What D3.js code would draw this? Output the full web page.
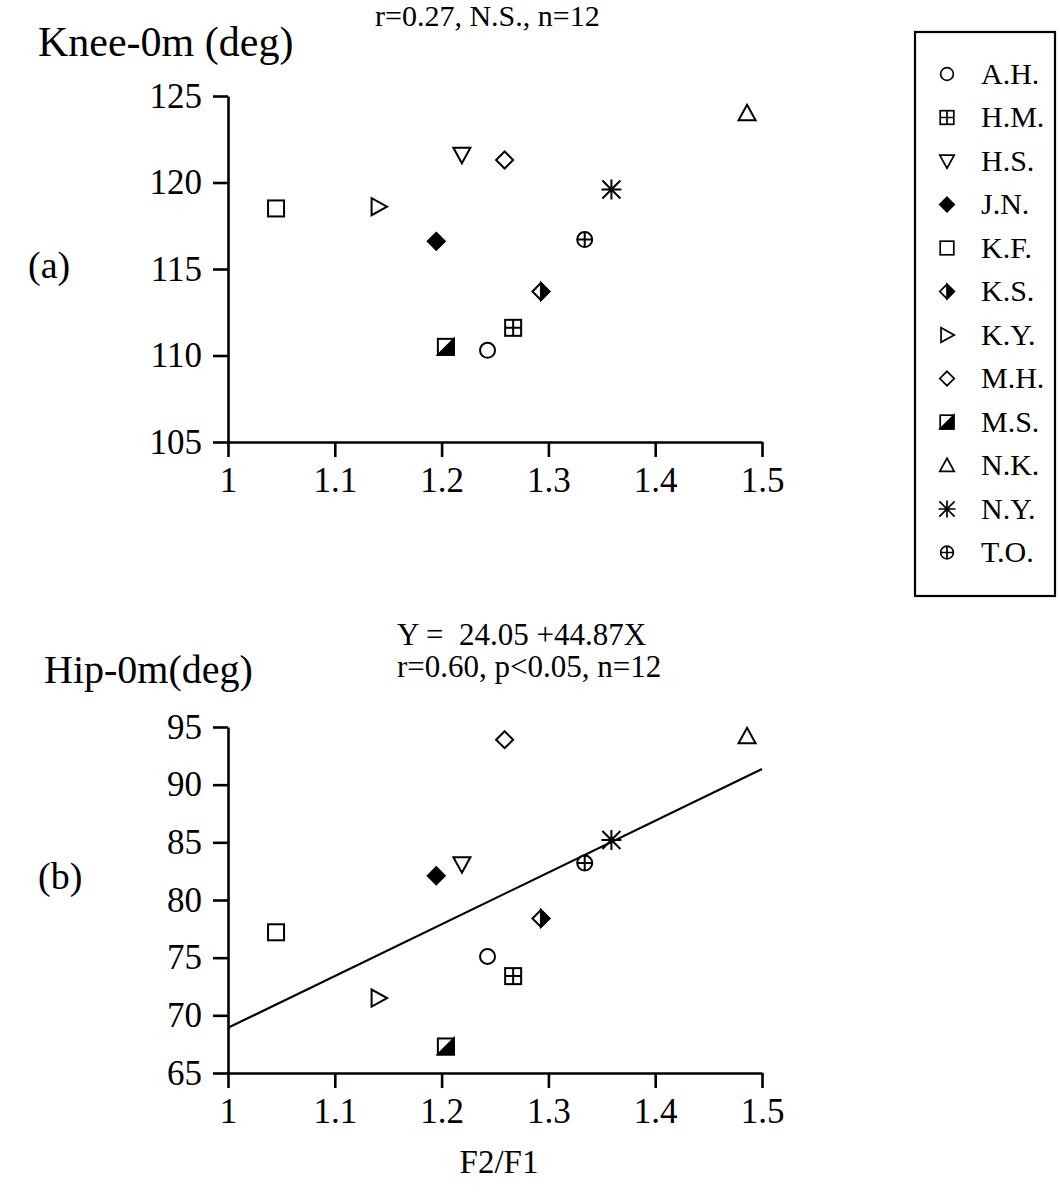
<!DOCTYPE html>
<html><head><meta charset="utf-8">
<script src="https://cdn.jsdelivr.net/npm/d3@7"></script>
<style>
html,body{margin:0;padding:0;background:#fff;}
svg text{font-family:"Liberation Serif","Times New Roman",serif;fill:#000;}
</style></head>
<body>
<svg id="c" width="1060" height="1196"></svg>
<script>
// ---- data ----
const subjects = ["A.H.","H.M.","H.S.","J.N.","K.F.","K.S.","K.Y.","M.H.","M.S.","N.K.","N.Y.","T.O."];
const markerShapes = ["circle","squarePlus","triDown","diamondFilled","square","diamondHalf","triRight","diamond","squareHalf","triUp","asterisk","circlePlus"];
const ratioF2F1 = [1.243,1.267,1.219,1.195,1.045,1.293,1.141,1.259,1.204,1.486,1.359,1.334];
const knee0m = [110.3,111.6,121.6,116.6,118.5,113.7,118.6,121.3,110.5,124.0,119.6,116.7];
const hip0m = [75.1,73.4,83.1,82.1,77.2,78.4,71.5,93.9,67.3,94.2,85.2,83.2];
const xTicks = [1,1.1,1.2,1.3,1.4,1.5];
const kneeTicks = [105,110,115,120,125];
const hipTicks = [65,70,75,80,85,90,95];
const regIntercept = 24.05, regSlope = 44.87;

const svg = d3.select("#c");

function drawMarker(g, shape){
  const s = 8, sw = 2;
  const st = {stroke:"#000","stroke-width":sw};
  const add = (tag, attrs) => { const e = g.append(tag); Object.entries(attrs).forEach(([k,v])=>e.attr(k,v)); return e; };
  switch(shape){
    case "circle": add("circle",{r:7.5,fill:"#fff",...st}); break;
    case "circlePlus":
      add("circle",{r:7.5,fill:"#fff",...st});
      add("path",{d:"M-7.5,0H7.5M0,-7.5V7.5",...st}); break;
    case "square": add("rect",{x:-s,y:-s,width:2*s,height:2*s,fill:"#fff",...st}); break;
    case "squarePlus":
      add("rect",{x:-s,y:-s,width:2*s,height:2*s,fill:"#fff",...st});
      add("path",{d:`M${-s},0H${s}M0,${-s}V${s}`,...st}); break;
    case "squareHalf":
      add("rect",{x:-s,y:-s,width:2*s,height:2*s,fill:"#fff",...st});
      add("path",{d:`M${-s},${s}L${s},${-s}L${s},${s}Z`,fill:"#000",...st}); break;
    case "diamond": add("path",{d:"M0,-8.5L8.5,0L0,8.5L-8.5,0Z",fill:"#fff",...st}); break;
    case "diamondFilled": add("path",{d:"M0,-8.5L8.5,0L0,8.5L-8.5,0Z",fill:"#000",...st}); break;
    case "diamondHalf":
      add("path",{d:"M0,-8.5L8.5,0L0,8.5L-8.5,0Z",fill:"#fff",...st});
      add("path",{d:"M0,-8.5L8.5,0L0,8.5Z",fill:"#000",...st}); break;
    case "triUp": add("path",{d:"M0,-8.5L8.5,7L-8.5,7Z",fill:"#fff",...st}); break;
    case "triDown": add("path",{d:"M0,8.5L8.5,-7L-8.5,-7Z",fill:"#fff",...st}); break;
    case "triRight": add("path",{d:"M8.5,0L-7,8.5L-7,-8.5Z",fill:"#fff",...st}); break;
    case "asterisk":
      add("path",{d:"M0,-10V10M-9,-9L9,9M-9,9L9,-9M-10,0H10",...st}); break;
  }
}

function panel(cfg){
  const x = d3.scaleLinear().domain([1,1.5]).range([228,762]);
  const y = d3.scaleLinear().domain(cfg.yDomain).range(cfg.yRange);
  const g = svg.append("g");
  const yAxis = d3.axisLeft(y).tickValues(cfg.yTicks).tickSize(15).tickSizeOuter(0).tickPadding(11).tickFormat(d3.format("d"));
  const ya = g.append("g").attr("transform","translate(228,0)").call(yAxis);
  const xAxis = d3.axisBottom(x).tickValues(xTicks).tickSize(15).tickSizeOuter(0).tickPadding(10).tickFormat(d => d3.format("")(d));
  const xa = g.append("g").attr("transform",`translate(0,${cfg.yRange[0]})`).call(xAxis);
  [ya,xa].forEach(a=>{
    a.select(".domain").attr("stroke","#000").attr("stroke-width",2.6);
    a.selectAll(".tick line").attr("stroke","#000").attr("stroke-width",2.6);
    a.selectAll(".tick text").style("font-family",'"Liberation Serif",serif').style("font-size","35px").attr("fill","#000");
  });
  if(cfg.reg){
    g.append("line").attr("x1",x(1)).attr("x2",x(1.5))
      .attr("y1",y(regIntercept+regSlope*1)).attr("y2",y(regIntercept+regSlope*1.5))
      .attr("stroke","#000").attr("stroke-width",2.2);
  }
  subjects.forEach((s,i)=>{
    const m = g.append("g").attr("transform",`translate(${x(ratioF2F1[i])},${y(cfg.values[i])})`);
    drawMarker(m, markerShapes[i]);
  });
}

panel({yDomain:[105,125], yRange:[442,96], yTicks:kneeTicks, values:knee0m, reg:false});
panel({yDomain:[65,95], yRange:[1073,727], yTicks:hipTicks, values:hip0m, reg:true});

// texts
const T = (x,y,txt,size,anchor="start") => svg.append("text").attr("x",x).attr("y",y).attr("font-size",size).attr("text-anchor",anchor).attr("dominant-baseline","middle").text(txt);
T(38,46,"Knee-0m (deg)",42);
T(375,19,"r=0.27, N.S., n=12",30);
T(28,269,"(a)",38);
T(44,674,"Hip-0m(deg)",40);
T(397,638,"Y =  24.05 +44.87X",31).style("white-space","pre");
T(397,670,"r=0.60, p<0.05, n=12",31);
T(38,880,"(b)",38);
T(499,1165,"F2/F1",33,"middle");

// legend
const lg = svg.append("g");
lg.append("rect").attr("x",915).attr("y",32).attr("width",140).attr("height",564).attr("fill","#fff").attr("stroke","#000").attr("stroke-width",2.2);
subjects.forEach((s,i)=>{
  const yy = 74 + i*43.5;
  const m = lg.append("g").attr("transform",`translate(947,${yy}) scale(0.85)`);
  drawMarker(m, markerShapes[i]);
  lg.append("text").attr("x",981).attr("y",yy+3).attr("font-size",30).attr("dominant-baseline","middle").text(s);
});
</script>
</body></html>
